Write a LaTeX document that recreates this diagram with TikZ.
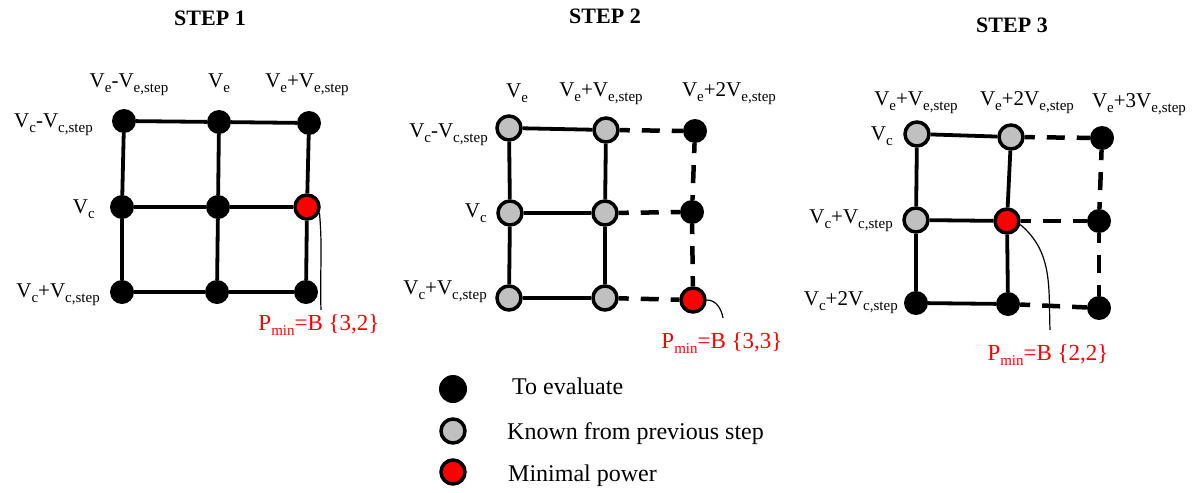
\documentclass[tikz,border=0pt]{standalone}
\usepackage{fontspec}
\setmainfont{Liberation Serif}
\definecolor{knowngray}{RGB}{192,192,192}
\newcommand{\sbs}[1]{\raisebox{-5pt}{\fontsize{15}{15}\selectfont #1}}

\tikzstyle{evalpt} = [circle, fill=black, minimum size=24pt, inner sep=0pt]
\tikzstyle{knownpt} = [circle, draw=black, line width=3.5pt, fill=knowngray, minimum size=24pt, inner sep=0pt]
\tikzstyle{minpt} = [knownpt, fill=red]
\tikzstyle{lbl} = [font=\fontsize{21}{24}\selectfont, inner sep=0pt]
\tikzstyle{steptitle} = [font=\bfseries\fontsize{22}{26}\selectfont, inner sep=0pt]
\tikzstyle{pminlbl} = [text=red, font=\fontsize{23}{26}\selectfont, inner sep=0pt]
\tikzstyle{legtext} = [font=\fontsize{24}{28}\selectfont, inner sep=0pt, anchor=base west]
\tikzstyle{solidedge} = [line width=3.8pt]
\tikzstyle{dashedge} = [line width=4.5pt, dash pattern=on 18pt off 12pt, dash phase=8pt]
\tikzstyle{pointer} = [line width=1.2pt]

\begin{document}
\begin{tikzpicture}[x=1pt, y=-1pt]
\useasboundingbox (0,0) rectangle (1195,493);

% step 1
\node[steptitle, anchor=base] (title1) at (210,25) {STEP 1};
\node[evalpt] (a11) at (124,121) {};
\node[evalpt] (a12) at (219,122) {};
\node[evalpt] (a13) at (309,123) {};
\node[evalpt] (a21) at (122,207) {};
\node[evalpt] (a22) at (218,207) {};
\node[minpt] (a23) at (307,207) {};
\node[evalpt] (a31) at (122,292) {};
\node[evalpt] (a32) at (217,292) {};
\node[evalpt] (a33) at (306,292) {};
\draw[solidedge] (a11) -- (a12) -- (a13);
\draw[solidedge] (a21) -- (a22) -- (a23);
\draw[solidedge] (a31) -- (a32) -- (a33);
\draw[solidedge] (a11) -- (a21) -- (a31);
\draw[solidedge] (a12) -- (a22) -- (a32);
\draw[solidedge] (a13) -- (a23) -- (a33);
\node[lbl, anchor=base] (ve1a) at (129,87) {V\sbs{e}-V\sbs{e,step}};
\node[lbl, anchor=base] (ve1b) at (219,87) {V\sbs{e}};
\node[lbl, anchor=base] (ve1c) at (307,87) {V\sbs{e}+V\sbs{e,step}};
\node[lbl, anchor=base east] (vc1a) at (93,127) {V\sbs{c}-V\sbs{c,step}};
\node[lbl, anchor=base east] (vc1b) at (95,213) {V\sbs{c}};
\node[lbl, anchor=base east] (vc1c) at (100,297) {V\sbs{c}+V\sbs{c,step}};
\node[pminlbl, anchor=base] (pmin1) at (319,330) {P\sbs{min}=B \{3,2\}};
\coordinate (end1) at (321,310);
\draw[pointer] (a23.-25) to[out=-85,in=92] (end1);

% step 2
\node[steptitle, anchor=base] (title2) at (605,23) {STEP 2};
\node[knownpt] (b11) at (509,128) {};
\node[knownpt] (b12) at (606,130) {};
\node[evalpt] (b13) at (695,131) {};
\node[knownpt] (b21) at (510,213) {};
\node[knownpt] (b22) at (605,213) {};
\node[evalpt] (b23) at (692,212) {};
\node[knownpt] (b31) at (509,298) {};
\node[knownpt] (b32) at (605,298) {};
\node[minpt] (b33) at (693,300) {};
\draw[solidedge] (b11) -- (b12);
\draw[solidedge] (b21) -- (b22);
\draw[solidedge] (b31) -- (b32);
\draw[solidedge] (b11) -- (b21) -- (b31);
\draw[solidedge] (b12) -- (b22) -- (b32);
\draw[dashedge] (b12) -- (b13);
\draw[dashedge] (b22) -- (b23);
\draw[dashedge] (b32) -- (b33);
\draw[dashedge] (b13) -- (b23);
\draw[dashedge] (b23) -- (b33);
\node[lbl, anchor=base] (ve2a) at (517,97) {V\sbs{e}};
\node[lbl, anchor=base] (ve2b) at (601,96) {V\sbs{e}+V\sbs{e,step}};
\node[lbl, anchor=base] (ve2c) at (729,96) {V\sbs{e}+2V\sbs{e,step}};
\node[lbl, anchor=base east] (vc2a) at (488,137) {V\sbs{c}-V\sbs{c,step}};
\node[lbl, anchor=base east] (vc2b) at (487,217) {V\sbs{c}};
\node[lbl, anchor=base east] (vc2c) at (487,294) {V\sbs{c}+V\sbs{c,step}};
\node[pminlbl, anchor=base] (pmin2) at (722,348) {P\sbs{min}=B \{3,3\}};
\coordinate (end2) at (723,318);
\draw[pointer] (b33.east) to[out=0,in=100] (end2);

% step 3
\node[steptitle, anchor=base] (title3) at (1012,32) {STEP 3};
\node[knownpt] (c11) at (917,134) {};
\node[knownpt] (c12) at (1011,137) {};
\node[evalpt] (c13) at (1102,138) {};
\node[knownpt] (c21) at (916,220) {};
\node[minpt] (c22) at (1007,221) {};
\node[evalpt] (c23) at (1099,221) {};
\node[evalpt] (c31) at (916,303) {};
\node[evalpt] (c32) at (1008,304) {};
\node[evalpt] (c33) at (1099,308) {};
\draw[solidedge] (c11) -- (c12);
\draw[solidedge] (c21) -- (c22);
\draw[solidedge] (c31) -- (c32);
\draw[solidedge] (c11) -- (c21) -- (c31);
\draw[solidedge] (c12) -- (c22) -- (c32);
\draw[dashedge] (c12) -- (c13);
\draw[dashedge] (c22) -- (c23);
\draw[dashedge] (c32) -- (c33);
\draw[dashedge] (c13) -- (c23);
\draw[dashedge] (c23) -- (c33);
\node[lbl, anchor=base] (ve3a) at (916,105) {V\sbs{e}+V\sbs{e,step}};
\node[lbl, anchor=base] (ve3b) at (1027,105) {V\sbs{e}+2V\sbs{e,step}};
\node[lbl, anchor=base] (ve3c) at (1139,107) {V\sbs{e}+3V\sbs{e,step}};
\node[lbl, anchor=base east] (vc3a) at (893,140) {V\sbs{c}};
\node[lbl, anchor=base east] (vc3b) at (893,223) {V\sbs{c}+V\sbs{c,step}};
\node[lbl, anchor=base east] (vc3c) at (898,305) {V\sbs{c}+2V\sbs{c,step}};
\node[pminlbl, anchor=base] (pmin3) at (1048,360) {P\sbs{min}=B \{2,2\}};
\coordinate (end3) at (1050,330);
\draw[pointer] (c22.-15) to[out=-40,in=92] (end3);

% legend
\node[evalpt, minimum size=28pt] (leg1) at (453,389) {};
\node[knownpt, minimum size=24pt] (leg2) at (453,431) {};
\node[minpt, minimum size=24pt] (leg3) at (453,472) {};
\node[legtext] (legt1) at (512,394) {To evaluate};
\node[legtext] (legt2) at (507,439) {Known from previous step};
\node[legtext] (legt3) at (508,481) {Minimal power};
\end{tikzpicture}
\end{document}
